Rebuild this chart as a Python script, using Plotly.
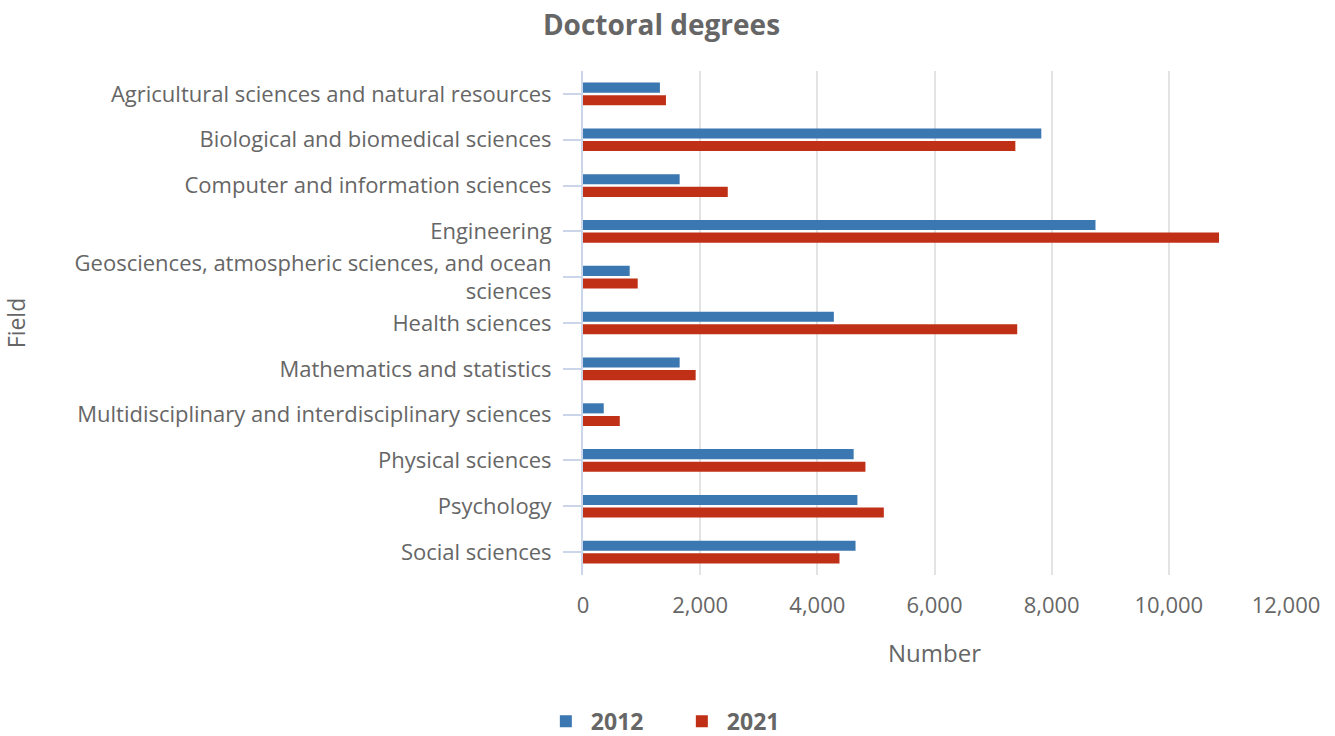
import plotly.graph_objects as go

fields = [
    "Agricultural sciences and natural resources",
    "Biological and biomedical sciences",
    "Computer and information sciences",
    "Engineering",
    "Geosciences, atmospheric sciences, and ocean<br>sciences",
    "Health sciences",
    "Mathematics and statistics",
    "Multidisciplinary and interdisciplinary sciences",
    "Physical sciences",
    "Psychology",
    "Social sciences",
]
values_2012 = [1313, 7823, 1650, 8748, 797, 4282, 1650, 354, 4620, 4684, 4652]
values_2021 = [1416, 7380, 2471, 10857, 934, 7412, 1923, 628, 4821, 5135, 4378]
x_ticks = [0, 2000, 4000, 6000, 8000, 10000, 12000]

FONT = "Open Sans"
GRAY = "#666666"

fig = go.Figure()
fig.add_trace(go.Bar(name="2012", y=fields, x=values_2012, orientation="h",
                     marker=dict(color="#3b77b0", line=dict(width=0))))
fig.add_trace(go.Bar(name="2021", y=fields, x=values_2021, orientation="h",
                     marker=dict(color="#bf3016", line=dict(width=0))))

fig.update_layout(
    width=1335, height=736,
    paper_bgcolor="white", plot_bgcolor="white",
    font=dict(family=FONT, color=GRAY),
    title=dict(text="<b>Doctoral degrees</b>", x=0.4955, xanchor="center",
               y=0.966, yanchor="middle", font=dict(size=28, color=GRAY, family=FONT)),
    margin=dict(l=583, r=49, t=71, b=161, autoexpand=False),
    barmode="group", bargap=0.45, bargroupgap=0.2,
    showlegend=True,
    legend=dict(orientation="h", xref="container", yref="container",
                x=0.507, xanchor="center", y=0.02, yanchor="middle",
                font=dict(size=23, color=GRAY, family=FONT, weight="bold"),
                itemwidth=40, entrywidth=81, entrywidthmode="pixels",
                traceorder="normal"),
)
fig.update_xaxes(
    range=[0, 12000], tickvals=x_ticks, tickformat=",",
    showgrid=True, gridcolor="#e3e3e3", gridwidth=1.5,
    zeroline=False, showline=False,
    tickfont=dict(size=22, color=GRAY, family=FONT),
    ticklabelstandoff=15,
    title=dict(text="Number", font=dict(size=24, color=GRAY, family=FONT), standoff=27),
    ticks="", automargin=False,
)
fig.update_yaxes(
    autorange="reversed", showgrid=False, zeroline=False,
    showline=True, linecolor="#ccd6eb", linewidth=2,
    ticks="outside", ticklen=18, tickcolor="#ccd6eb", tickwidth=2,
    tickfont=dict(size=22, color=GRAY, family=FONT),
    ticklabelstandoff=7,
    title=dict(text="Field", font=dict(size=23, color=GRAY, family=FONT), standoff=44),
    automargin=False,
)

fig.write_html("out.html", config={"displayModeBar": False},
               post_script="document.body.style.margin='0';document.body.style.overflow='hidden';")
